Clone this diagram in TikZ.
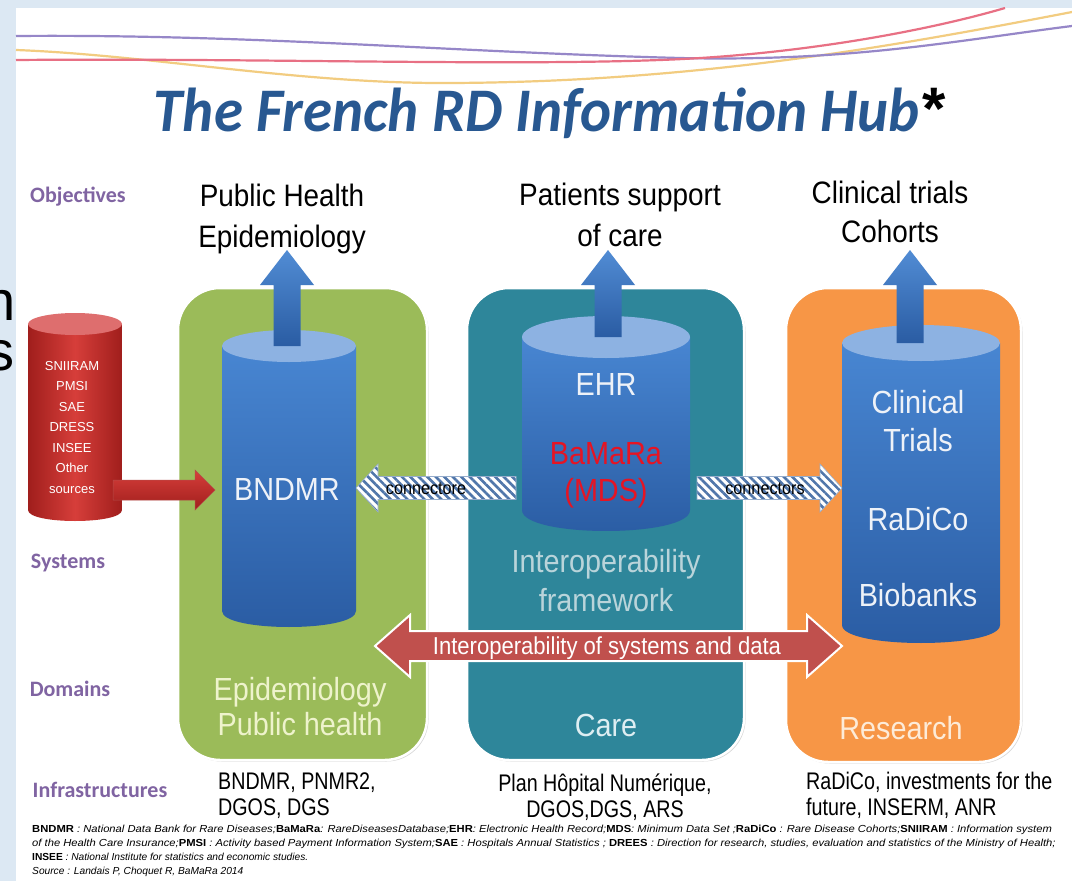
\documentclass[tikz,border=0pt]{standalone}
\usepackage{fontspec}
\setmainfont{Liberation Sans}
\newfontfamily\nar[FakeStretch=0.9]{Liberation Sans}
\newfontfamily\narr[FakeStretch=0.82]{Liberation Sans}
\newfontfamily\calfont{Carlito}
\newfontfamily\ttlfont[FakeStretch=0.95]{Carlito}
\usetikzlibrary{calc,patterns.meta,shadows}

\definecolor{bgblue}{RGB}{220,232,243}
\definecolor{ttlblue}{RGB}{40,88,145}
\definecolor{lblpurple}{RGB}{128,100,162}
\definecolor{grn}{RGB}{155,187,89}
\definecolor{tealb}{RGB}{46,134,154}
\definecolor{orng}{RGB}{247,150,70}
\definecolor{cylA}{RGB}{72,134,210}
\definecolor{cylB}{RGB}{42,92,163}
\definecolor{cyltop}{RGB}{141,178,226}
\definecolor{redA}{RGB}{214,62,58}
\definecolor{redB}{RGB}{160,30,28}
\definecolor{redtop}{RGB}{222,110,110}
\definecolor{arrred}{RGB}{192,80,77}
\definecolor{hatch}{RGB}{80,118,170}
\definecolor{bamara}{RGB}{230,20,35}
\definecolor{lineP}{RGB}{150,135,200}
\definecolor{lineR}{RGB}{232,112,132}
\definecolor{lineY}{RGB}{242,204,128}
\definecolor{interop}{RGB}{185,212,218}
\definecolor{epicol}{RGB}{238,243,204}
\definecolor{carecol}{RGB}{222,238,242}
\definecolor{rescol}{RGB}{253,235,216}
\definecolor{cyltext}{RGB}{238,242,248}

% cylinder: #1 cx, #2 top y, #3 bottom y, #4 rx, #5 ry, #6 body style, #7 top style
\newcommand\cylinderdraw[7]{%
  \path[#6] (#1-#4,#2) -- (#1-#4,#3) .. controls (#1-#4,#3+1.333*#5) and (#1+#4,#3+1.333*#5) .. (#1+#4,#3) -- (#1+#4,#2) -- cycle;
  \path[#7] (#1,#2) ellipse [x radius=#4, y radius=#5];
}
% horizontal block arrow: #1 style, #2 tail, #3 tip, #4 shaft half, #5 head half, #6 signed head length
\newcommand\hblock[6]{%
  \path[#1] let \p1=(#2), \p2=(#3), \n1={#6} in
    ({\x1},{\y1+#4}) -- ({\x2-\n1},{\y1+#4}) -- ({\x2-\n1},{\y1+#5}) -- ({\x2},{\y1})
    -- ({\x2-\n1},{\y1-#5}) -- ({\x2-\n1},{\y1-#4}) -- ({\x1},{\y1-#4}) -- cycle;
}
% vertical (upward) block arrow: #1 style, #2 base, #3 tip, #4 shaft half, #5 head half, #6 head length
\newcommand\vblock[6]{%
  \path[#1] let \p1=(#2), \p2=(#3) in
    ({\x1-#4},{\y1}) -- ({\x1-#4},{\y2-#6}) -- ({\x1-#5},{\y2-#6}) -- ({\x1},{\y2})
    -- ({\x1+#5},{\y2-#6}) -- ({\x1+#4},{\y2-#6}) -- ({\x1+#4},{\y1}) -- cycle;
}

\begin{document}
\begin{tikzpicture}[x=1pt,y=-1pt,
  lbl/.style={font=\calfont\bfseries\fontsize{22}{24}\selectfont, text=lblpurple, inner sep=0, anchor=base},
  obj/.style={font=\nar\fontsize{31}{36}\selectfont, inner sep=0, anchor=base},
  big/.style={font=\nar\fontsize{32}{36}\selectfont, inner sep=0, anchor=base},
  infra/.style={font=\narr\fontsize{24}{26}\selectfont, inner sep=0, anchor=base},
  srcs/.style={font=\fontsize{13}{14}\selectfont, text=white, inner sep=0, anchor=base},
  foot/.style={font=\itshape\fontsize{10.2}{11}\selectfont, inner sep=0, anchor=base west},
  domainbox/.style={rounded corners=42pt, draw=white, line width=2.5pt,
     drop shadow={shadow xshift=1.5pt, shadow yshift=-1.5pt, opacity=.3}},
  wave/.style={line width=2.2pt},
  bluebody/.style={top color=cylA, bottom color=cylB},
  bluetop/.style={fill=cyltop},
  uparrow/.style={top color=cylA!95!white, bottom color=cylB},
  hatched/.style={preaction={fill=white}, pattern={Lines[angle=-45,distance=6pt,line width=2.6pt]}, pattern color=hatch, draw=hatch!60, line width=.6pt},
  redarrow/.style={top color=redA, bottom color=redB, draw=redB!80, line width=.5pt},
  interarrow/.style={fill=arrred, draw=white, line width=2pt},
  conn/.style={font=\nar\fontsize{18}{18}\selectfont, inner sep=0, anchor=base},
  edge letter/.style={font=\fontsize{56}{56}\selectfont, anchor=base east, inner sep=0}
]
\useasboundingbox (0,0) rectangle (1072,881);

% background and slide
\fill[bgblue] (0,0) rectangle (1072,881);
\fill[white] (16,8) rectangle (1072,881);
\begin{scope}
  \clip (0,0) rectangle (15.5,881);
  \node[edge letter] (pn) at (16,320) {n};
  \node[edge letter] (ps) at (15,370) {s};
\end{scope}

% wavy lines
\draw[wave, lineY] (16,50) .. controls (150,55) and (300,84) .. (450,83) .. controls (700,82) and (900,45) .. (1072,12);
\draw[wave, lineP] (16,36) .. controls (250,34) and (450,52) .. (680,58) .. controls (850,62) and (960,40) .. (1072,26);
\draw[wave, lineR] (16,60) .. controls (250,58) and (500,66) .. (660,60) .. controls (800,55) and (930,30) .. (1005,8);

% title
\node[font=\ttlfont\bfseries\itshape\fontsize{62}{70}\selectfont, text=ttlblue, anchor=base, inner sep=0] (title) at (537,131) {The French RD Information Hub};
\node[font=\bfseries\fontsize{60}{60}\selectfont, anchor=base west, inner sep=0] (ast) at (922,129) {*};

% row labels
\node[lbl] (lobj) at (78,202) {Objectives};
\node[lbl] (lsys) at (68,568) {Systems};
\node[lbl] (ldom) at (70,696) {Domains};
\node[lbl] (linf) at (100,797) {Infrastructures};

% objectives
\node[obj] (o1a) at (282,206) {Public Health};
\node[obj] (o1b) at (282,247) {Epidemiology};
\node[obj] (o2a) at (620,205) {Patients support};
\node[obj] (o2b) at (620,246) {of care};
\node[obj] (o3a) at (890,203) {Clinical trials};
\node[obj] (o3b) at (890,242) {Cohorts};

% domain boxes
\path[domainbox, fill=grn] (178,288) rectangle (427,760);
\path[domainbox, fill=tealb] (467,288) rectangle (744,760);
\path[domainbox, fill=orng] (786,288) rectangle (1021,762);

% red source cylinder
\cylinderdraw{75}{324}{510}{47}{11}{left color=redB, right color=redB, middle color=redA}{fill=redtop}
% blue cylinders
\cylinderdraw{289}{346}{611}{67}{16}{bluebody}{bluetop}
\cylinderdraw{606}{337}{510}{84}{21}{bluebody}{bluetop}
\cylinderdraw{921}{343}{625}{79}{18}{bluebody}{bluetop}

% named anchor coordinates
\coordinate (bTop) at (287,346);
\coordinate (bTip) at (287,250);
\coordinate (eTop) at (608,337);
\coordinate (eTip) at (608,250);
\coordinate (rTop) at (910,343);
\coordinate (rTip) at (910,250);
\coordinate (bndmrR) at (356,488);
\coordinate (ehrL) at (516,488);
\coordinate (ehrR) at (697,488);
\coordinate (resL) at (842,488);
\coordinate (srcR) at (113,490);
\coordinate (bndmrL) at (215,490);
\coordinate (ioL) at (375,646);
\coordinate (ioR) at (842,646);

% up arrows
\vblock{uparrow}{bTop}{bTip}{13.5pt}{27pt}{35pt}
\vblock{uparrow}{eTop}{eTip}{13.5pt}{27pt}{35pt}
\vblock{uparrow}{rTop}{rTip}{13.5pt}{27pt}{35pt}

% connectors
\hblock{hatched}{ehrL}{bndmrR}{11.5pt}{24pt}{-22pt}
\hblock{hatched}{ehrR}{resL}{11.5pt}{24pt}{22pt}
\hblock{redarrow}{srcR}{bndmrL}{10pt}{20pt}{20pt}

% interoperability double arrow
\path[interarrow] let \p1=(ioL), \p2=(ioR) in
  ({\x1},{\y1}) -- ({\x1+35pt},{\y1+31pt}) -- ({\x1+35pt},{\y1+15pt}) -- ({\x2-35pt},{\y1+15pt}) -- ({\x2-35pt},{\y1+31pt})
  -- ({\x2},{\y1}) -- ({\x2-35pt},{\y1-31pt}) -- ({\x2-35pt},{\y1-15pt}) -- ({\x1+35pt},{\y1-15pt}) -- ({\x1+35pt},{\y1-31pt}) -- cycle;
\node[font=\nar\fontsize{24.5}{25}\selectfont, text=white, inner sep=0, anchor=base] (iotext) at (607,654) {Interoperability of systems and data};

\node[conn] (cl) at (426,494) {connectore};
\node[conn] (cr) at (765,494) {connectors};

% source texts
\node[srcs] (s1) at (72,370) {SNIIRAM};
\node[srcs] (s2) at (72,390) {PMSI};
\node[srcs] (s3) at (72,411) {SAE};
\node[srcs] (s4) at (72,431) {DRESS};
\node[srcs] (s5) at (72,452) {INSEE};
\node[srcs] (s6) at (72,472) {Other};
\node[srcs] (s7) at (72,493) {sources};

% systems texts
\node[big, text=cyltext] (bndmr) at (287,500) {BNDMR};
\node[big, text=cyltext] (ehr) at (606,395) {EHR};
\node[big, text=bamara] (bam) at (606,464) {BaMaRa};
\node[big, text=bamara] (mds) at (606,501) {(MDS)};
\node[big, text=interop] (if1) at (606,572) {Interoperability};
\node[big, text=interop] (if2) at (606,611) {framework};
\node[big, text=cyltext] (ct1) at (918,413) {Clinical};
\node[big, text=cyltext] (ct2) at (918,451) {Trials};
\node[big, text=cyltext] (rad) at (918,530) {RaDiCo};
\node[big, text=cyltext] (bio) at (918,606) {Biobanks};

% domain texts
\node[big, text=epicol] (d1a) at (300,700) {Epidemiology};
\node[big, text=epicol] (d1b) at (300,735) {Public health};
\node[big, text=carecol] (d2) at (606,736) {Care};
\node[big, text=rescol] (d3) at (901,739) {Research};

% infrastructures
\node[infra, anchor=base west] (i1a) at (218,789) {BNDMR, PNMR2,};
\node[infra, anchor=base west] (i1b) at (218,815) {DGOS, DGS};
\node[infra] (i2a) at (605,791) {Plan Hôpital Numérique,};
\node[infra] (i2b) at (605,817) {DGOS,DGS, ARS};
\node[infra, anchor=base west] (i3a) at (806,789) {RaDiCo, investments for the};
\node[infra, anchor=base west] (i3b) at (806,815) {future, INSERM, ANR};

% footnote
\node[foot] (f1) at (32,832) {\scalebox{1.1}[1]{\textbf{\upshape BNDMR} : National Data Bank for Rare Diseases;\textbf{\upshape BaMaRa}: RareDiseasesDatabase;\textbf{\upshape EHR}: Electronic Health Record;\textbf{\upshape MDS}: Minimum Data Set ;\textbf{\upshape RaDiCo} : Rare Disease Cohorts;\textbf{\upshape SNIIRAM} : Information system}};
\node[foot] (f2) at (32,846) {\scalebox{1.1}[1]{of the Health Care Insurance;\textbf{\upshape PMSI} : Activity based Payment Information System;\textbf{\upshape SAE} : Hospitals Annual Statistics ; \textbf{\upshape DREES} : Direction for research, studies, evaluation and statistics of the Ministry of Health;}};
\node[foot] (f3) at (32,860) {\textbf{\upshape INSEE} : National Institute for statistics and economic studies.};
\node[foot] (f4) at (32,874) {Source : Landais P, Choquet R, BaMaRa 2014};
\end{tikzpicture}
\end{document}
